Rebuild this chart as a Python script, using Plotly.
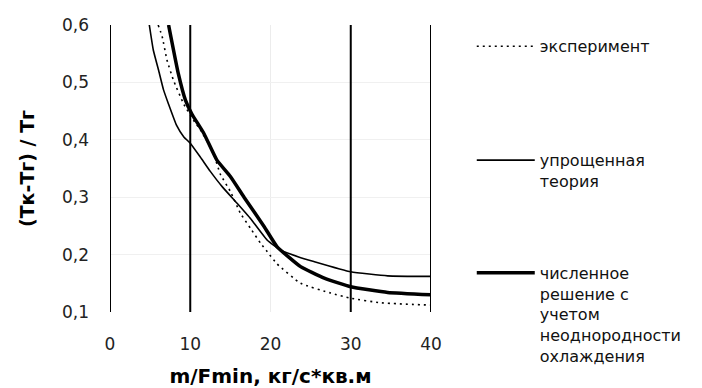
import plotly.graph_objects as go

# data
x_exp = [6.0, 6.5, 7.1, 7.9, 9.2, 10.6, 11.25, 12.9, 13.75, 15, 16.25, 17.5, 18.75, 19.6, 20.8, 23.75, 27.5, 30, 33.75, 40]
y_exp = [0.6, 0.58, 0.539, 0.504, 0.462, 0.43, 0.418, 0.376, 0.34, 0.31, 0.272, 0.246, 0.22, 0.205, 0.184, 0.15, 0.133, 0.124, 0.116, 0.112]

x_theory = [4.9, 5.4, 6.04, 6.67, 7.3, 8.3, 9.2, 10, 11.25, 12.5, 14, 15.8, 17.5, 19.6, 21.25, 23.5, 25.4, 30, 34.6, 40]
y_theory = [0.6, 0.556, 0.522, 0.487, 0.462, 0.425, 0.405, 0.394, 0.37, 0.345, 0.318, 0.29, 0.263, 0.225, 0.208, 0.196, 0.188, 0.170, 0.163, 0.162]

x_num = [7.3, 8.5, 9.4, 10.2, 11.7, 13.3, 15, 16.7, 19.2, 20.8, 23.75, 26.7, 30, 34.6, 40]
y_num = [0.6, 0.516, 0.469, 0.445, 0.411, 0.365, 0.336, 0.30, 0.249, 0.214, 0.179, 0.159, 0.144, 0.134, 0.130]

name_exp = "эксперимент"
name_theory = "упрощенная<br>теория"
name_num = "численное<br>решение с<br>учетом<br>неоднородности<br>охлаждения"

x_ticks = [0, 10, 20, 30, 40]
y_ticks = [0.1, 0.2, 0.3, 0.4, 0.5, 0.6]
dark_vlines = [0, 10, 30, 40]

FONT = "DejaVu Sans, Verdana, sans-serif"

fig = go.Figure()
fig.add_trace(go.Scatter(x=x_exp, y=y_exp, mode="lines", name=name_exp, legend="legend",
                         line=dict(color="black", width=1.6, dash="2px,4px", shape="spline", smoothing=0.4)))
fig.add_trace(go.Scatter(x=x_theory, y=y_theory, mode="lines", name=name_theory, legend="legend2",
                         line=dict(color="black", width=1.6, shape="spline", smoothing=0.4)))
fig.add_trace(go.Scatter(x=x_num, y=y_num, mode="lines", name=name_num, legend="legend3",
                         line=dict(color="black", width=3.5, shape="spline", smoothing=0.4)))

for xv in dark_vlines:
    fig.add_shape(type="line", xref="x", yref="paper", x0=xv, x1=xv, y0=0, y1=1,
                  line=dict(color="black", width=2), layer="above")

leg_common = dict(xanchor="left", yanchor="top", bgcolor="rgba(0,0,0,0)",
                  font=dict(family=FONT, size=16, color="#111"), valign="top", itemwidth=58)

# the page body adds an 8px offset, so the figure is 8px smaller with 8px less on the top/left margins
fig.update_layout(
    width=694, height=380,
    margin=dict(l=102, r=271, t=17, b=76, autoexpand=False),
    paper_bgcolor="white", plot_bgcolor="white",
    separators=", ",
    font=dict(family=FONT, color="#111"),
    showlegend=True,
    legend=dict(x=1.127, y=0.985, **leg_common),
    legend2=dict(x=1.127, y=0.588, **leg_common),
    legend3=dict(x=1.127, y=0.196, **leg_common),
    xaxis=dict(range=[0, 40], tickvals=x_ticks, showgrid=True, gridcolor="#ececec", gridwidth=1,
               zeroline=False, showline=False, ticks="", ticklabelstandoff=20, automargin=False,
               tickfont=dict(family=FONT, size=17, color="#222"),
               title=dict(text="<b>m/Fmin, кг/с*кв.м</b>", font=dict(family=FONT, size=20, color="#000"), standoff=16)),
    yaxis=dict(range=[0.1, 0.6], tickvals=y_ticks, tickformat=".1f", showgrid=True, gridcolor="#f0f0f0",
               gridwidth=1, zeroline=False, showline=False, ticks="", ticklabelstandoff=20, automargin=False,
               tickfont=dict(family=FONT, size=17, color="#222"),
               title=dict(text="<b>(Тк-Тг) / Тг</b>", font=dict(family=FONT, size=19, color="#000"), standoff=22)),
)

fig.write_html("out.html")
